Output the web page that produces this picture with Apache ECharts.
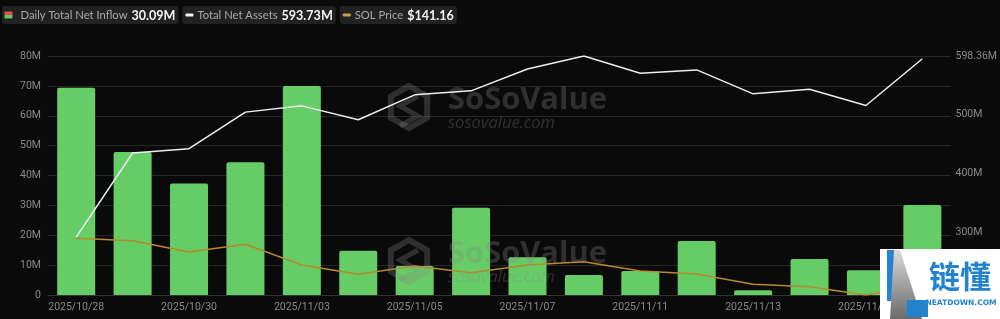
<!DOCTYPE html>
<html><head><meta charset="utf-8">
<script src="https://cdn.jsdelivr.net/npm/echarts@6/dist/echarts.min.js"></script>
<style>html,body{margin:0;padding:0;background:#0a0a0a}#c{width:1000px;height:319px}</style>
</head><body><div id="c"></div>
<script>
// ---- data (M = millions USD) ----
const dates = ['2025/10/28','2025/10/29','2025/10/30','2025/10/31','2025/11/03','2025/11/04','2025/11/05','2025/11/06','2025/11/07','2025/11/10','2025/11/11','2025/11/12','2025/11/13','2025/11/14','2025/11/17','2025/11/18'];
const netInflow = [69.4, 47.9, 37.3, 44.4, 70.0, 14.8, 9.7, 29.2, 12.6, 6.7, 8.0, 18.1, 1.6, 12.05, 8.3, 30.09];
const totalNetAssets = [292.0, 434.3, 441.6, 503.4, 514.0, 490.5, 532.6, 539.4, 576.4, 598.36, 569.2, 574.8, 534.3, 542.2, 514.6, 593.73];
const solPrice = [196.6, 193.8, 180.5, 189.6, 165.3, 154.3, 164.1, 156.2, 165.3, 169.1, 158.2, 154.7, 142.6, 139.8, 130.0, 141.16];
const leftTickLabels = ['0','10M','20M','30M','40M','50M','60M','70M','80M'];
const rightTickValues = [300, 400, 500, 598.36];
const legendNames = ['Daily Total Net Inflow', 'Total Net Assets', 'SOL Price'];

const last = a => a[a.length - 1];
const legendValues = [last(netInflow).toFixed(2) + 'M', last(totalNetAssets).toFixed(2) + 'M', '$' + last(solPrice).toFixed(2)];

const ctx = document.createElement('canvas').getContext('2d');
function tw(text, font) { ctx.font = font; return ctx.measureText(text).width; }

// fit legend font sizes to the widths seen in the reference
const labelSize = 13 * 107 / tw(legendNames[0], '13px Lato');
const valueSize = 14 * 44 / tw(legendValues[0], 'bold 14px Lato');
const labelFont = labelSize.toFixed(2) + 'px Lato';
const valueFont = 'bold ' + valueSize.toFixed(2) + 'px Lato';
const GREEN = '#66CC66', WHITE = '#EDEDED', GOLD = '#B8892F';

// ---- legend graphics ----
const graphics = [];
let x0 = 2;
const LY = 15.5;
const textOffset = [18.5, 15, 15];
const iconDraw = [
  (x) => [
    { type: 'rect', shape: { x: x + 2.5, y: 11.5, width: 8, height: 3.5, r: [1,1,0,0] }, style: { fill: '#D9534F' }, z: 101 },
    { type: 'rect', shape: { x: x + 2.5, y: 15, width: 8, height: 3.5, r: [0,0,1,1] }, style: { fill: '#5CC85C' }, z: 101 }
  ],
  (x) => [{ type: 'rect', shape: { x: x + 3, y: 13.5, width: 8, height: 3, r: 1 }, style: { fill: '#F2F2F2' }, z: 101 }],
  (x) => [{ type: 'rect', shape: { x: x + 3, y: 13.5, width: 8, height: 3, r: 1 }, style: { fill: '#C9A04A' }, z: 101 }]
];
for (let i = 0; i < 3; i++) {
  const lw = tw(legendNames[i], labelFont);
  const vw = tw(legendValues[i], valueFont);
  const tx = x0 + textOffset[i];
  const vx = tx + lw + 4;
  const w = vx + vw + 3 - x0;
  graphics.push({ type: 'rect', shape: { x: x0, y: 6, width: w, height: 18, r: 3 }, style: { fill: '#222222' }, z: 100 });
  graphics.push(...iconDraw[i](x0));
  graphics.push({ type: 'text', x: tx, y: LY, style: { text: legendNames[i], font: labelFont, fill: '#A9A9A9', textVerticalAlign: 'middle' }, z: 101 });
  graphics.push({ type: 'text', x: vx, y: LY, style: { text: legendValues[i], font: valueFont, fill: '#F4F4F4', textVerticalAlign: 'middle' }, z: 101 });
  x0 += w + 4;
}

// ---- SoSoValue watermarks ----
const WM = 'rgba(135,135,135,0.30)';
function fitFont(text, base, target, style) {
  const w = tw(text, style + ' ' + base + 'px "Open Sans"');
  return base * target / w;
}
const bigSize = fitFont('SoSoValue', 34, 159, 'bold');
const smallSize = fitFont('sosovalue.com', 18, 107, 'italic');
function hexPts(cx, cy, r) {
  const p = [];
  for (let k = 0; k < 6; k++) { const a = Math.PI / 180 * (60 * k - 90); p.push([cx + r * Math.cos(a), cy + r * Math.sin(a)]); }
  return p;
}
[107, 261].forEach(cy => {
  const cx = 409;
  graphics.push({ type: 'polygon', shape: { points: hexPts(cx, cy, 21) }, style: { fill: 'none', stroke: WM, lineWidth: 6 }, z: 3 });
  graphics.push({ type: 'polyline', shape: { points: [[cx + 9, cy - 11], [cx - 9, cy - 1], [cx + 9, cy + 9], [cx - 9, cy + 19]] }, style: { fill: 'none', stroke: WM, lineWidth: 5 }, z: 3 });
  graphics.push({ type: 'text', x: 448, y: cy - 7, style: { text: 'SoSoValue', font: 'bold ' + bigSize.toFixed(1) + 'px "Open Sans"', fill: WM, textVerticalAlign: 'middle' }, z: 3 });
  graphics.push({ type: 'text', x: 448, y: cy + 16, style: { text: 'sosovalue.com', font: 'italic ' + smallSize.toFixed(1) + 'px "Open Sans"', fill: WM, textVerticalAlign: 'middle' }, z: 3 });
});

// ---- NEATDOWN logo (bottom-right overlay) ----
const LOGO_BLUE = '#2383CF';
graphics.push({ type: 'rect', shape: { x: 880, y: 249, width: 120, height: 70 }, style: { fill: '#FFFFFF' }, z: 200 });
graphics.push({ type: 'rect', shape: { x: 887, y: 250, width: 9, height: 51 }, style: { fill: LOGO_BLUE }, z: 201 });
graphics.push({ type: 'polygon', shape: { points: [[894, 250], [900, 250], [922, 319], [890, 319]] },
  style: { fill: new echarts.graphic.LinearGradient(0, 0, 0, 1, [{ offset: 0, color: '#DADADA' }, { offset: 1, color: '#6A6A6A' }]) }, z: 202 });
graphics.push({ type: 'rect', shape: { x: 907, y: 300, width: 21, height: 17 }, style: { fill: LOGO_BLUE }, z: 203 });
graphics.push({ type: 'text', x: 960, y: 276, style: { text: '链懂', font: 'bold 31px "Noto Sans CJK SC"', fill: LOGO_BLUE, textAlign: 'center', textVerticalAlign: 'middle' }, z: 203 });
graphics.push({ type: 'text', x: 961, y: 303, style: { text: 'NEATDOWN.COM', font: 'bold 7.5px "DejaVu Sans"', fill: LOGO_BLUE, textAlign: 'center', textVerticalAlign: 'middle' }, z: 203 });

const chart = echarts.init(document.getElementById('c'), null, { renderer: 'canvas' });
const axisLabelStyle = { color: '#8A8A8A', fontSize: 10.5, fontFamily: 'Roboto' };
chart.setOption({
  backgroundColor: '#0a0a0a',
  animation: false,
  grid: { left: 48, right: 47, top: 56, bottom: 24 },
  xAxis: {
    type: 'category', data: dates,
    axisLine: { lineStyle: { color: '#333333' } },
    axisTick: { show: false },
    axisLabel: Object.assign({ interval: 1, margin: 7 }, axisLabelStyle)
  },
  yAxis: [
    {
      type: 'value', min: 0, max: 80, interval: 10,
      axisLabel: Object.assign({ margin: 7, formatter: v => leftTickLabels[Math.round(v / 10)] }, axisLabelStyle),
      splitLine: { lineStyle: { color: '#262626', width: 1 } },
      axisLine: { show: false }, axisTick: { show: false }
    },
    {
      type: 'value', position: 'right', min: 194, max: 598.36,
      axisLabel: Object.assign({ margin: 5, customValues: rightTickValues, formatter: v => (Math.round(v) === v ? v : v.toFixed(2)) + 'M' }, axisLabelStyle),
      splitLine: { show: false }, axisLine: { show: false }, axisTick: { show: false }
    },
    { type: 'value', show: false, min: 130, max: 411 }
  ],
  series: [
    { name: legendNames[0], type: 'bar', data: netInflow, yAxisIndex: 0, barWidth: 38, itemStyle: { color: GREEN, borderRadius: [2, 2, 0, 0] }, z: 2 },
    { name: legendNames[2], type: 'line', data: solPrice, yAxisIndex: 2, showSymbol: false, symbol: 'none', lineStyle: { color: GOLD, width: 1.5 }, z: 5 },
    { name: legendNames[1], type: 'line', data: totalNetAssets, yAxisIndex: 1, showSymbol: false, symbol: 'none', lineStyle: { color: WHITE, width: 1.5 }, z: 6 }
  ],
  graphic: { elements: graphics }
});
</script>
</body></html>
